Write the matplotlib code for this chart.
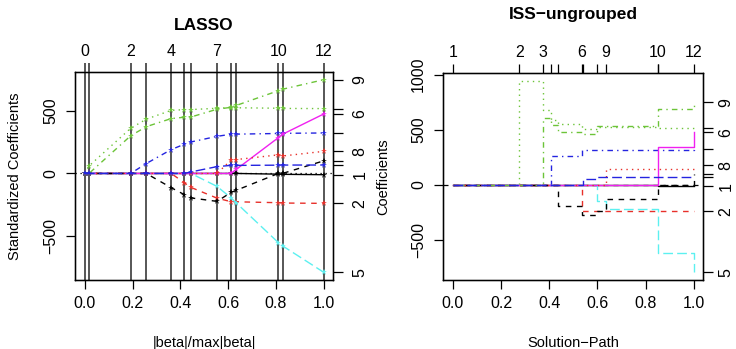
import numpy as np
import matplotlib.pyplot as plt

plt.rcParams['font.family'] = ['Liberation Sans', 'DejaVu Sans']

# variables of the diabetes data, in column order 1..10
var_names = ['age', 'sex', 'bmi', 'map', 'tc', 'ldl', 'hdl', 'tch', 'ltg', 'glu']

# LASSO path: |beta|/max|beta| at each step, coefficients per variable
lasso_frac = [0.0, 0.0174, 0.1918, 0.2569, 0.3615, 0.4164, 0.4442,
              0.5533, 0.6115, 0.6345, 0.8099, 0.8275, 1.0]
lasso_age = [0, 0, 0, 0, 0, 0, 0, 0, 0, 0, -5.7, -7.0, -10.0]
lasso_sex = [0, 0, 0, 0, 0, -74.9, -112.0, -197.8, -226.1, -227.2, -234.4, -237.1, -239.8]
lasso_bmi = [0, 60.1, 361.9, 434.8, 505.7, 511.3, 512.0, 522.3, 526.9, 526.4, 522.6, 521.1, 519.8]
lasso_map = [0, 0, 0, 79.2, 191.3, 234.2, 252.5, 297.2, 314.4, 315.0, 320.3, 321.5, 324.4]
lasso_tc = [0, 0, 0, 0, 0, 0, 0, -103.9, -195.1, -237.3, -554.3, -580.4, -792.2]
lasso_ldl = [0, 0, 0, 0, 0, 0, 0, 0, 0, 33.6, 286.7, 313.9, 476.7]
lasso_hdl = [0, 0, 0, 0, -114.1, -169.7, -196.0, -223.9, -152.5, -134.6, 0, 0, 101.0]
lasso_tch = [0, 0, 0, 0, 0, 0, 0, 0, 106.3, 111.4, 148.9, 139.9, 177.1]
lasso_ltg = [0, 0, 301.8, 374.9, 439.7, 450.7, 452.4, 514.7, 529.9, 545.5, 663.0, 674.9, 751.3]
lasso_glu = [0, 0, 0, 0, 0, 0, 12.1, 54.8, 64.5, 64.6, 66.3, 67.2, 67.6]
lasso_step_labels = ['0', '', '2', '', '4', '', '', '7', '', '', '10', '', '12']

# ISS-ungrouped path: solution-path position at each step, coefficients per variable
iss_pos = [0.0, 0.2756, 0.374, 0.408, 0.436, 0.535, 0.541, 0.598, 0.634, 0.850, 0.853, 1.0]
iss_age = [0, 0, 0, 0, 0, 0, 0, 0, 0, 0, -6, -10]
iss_sex = [0, 0, 0, 0, 0, -237, -237, -237, -237, -237, -237, -240]
iss_bmi = [0, 946, 676, 593, 557, 512, 512, 530, 530, 517, 517, 520]
iss_map = [0, 0, 0, 266, 266, 317, 317, 317, 317, 317, 317, 324]
iss_tc = [0, 0, 0, 0, 0, 0, 0, -147, -222, -617, -617, -792]
iss_ldl = [0, 0, 0, 0, 0, 0, 0, 0, 0, 347, 347, 477]
iss_hdl = [0, 0, 0, 0, -192, -276, -276, -240, -126, 0, 0, 101]
iss_tch = [0, 0, 0, 0, 0, 0, 0, 0, 146, 146, 146, 177]
iss_ltg = [0, 0, 611, 548, 481, 461, 461, 535, 535, 685, 685, 751]
iss_glu = [0, 0, 0, 0, 0, 0, 54, 72, 72, 72, 72, 68]
iss_step_labels = ['1', '2', '3', '', '', '6', '', '', '9', '10', '', '12']

# labels shown on the right axis (variable number at its final value)
right_labels = ['1', '2', '', '', '5', '6', '', '8', '9', '']

lasso_paths = [lasso_age, lasso_sex, lasso_bmi, lasso_map, lasso_tc,
               lasso_ldl, lasso_hdl, lasso_tch, lasso_ltg, lasso_glu]
iss_paths = [iss_age, iss_sex, iss_bmi, iss_map, iss_tc,
             iss_ldl, iss_hdl, iss_tch, iss_ltg, iss_glu]

# R matplot style: colours cycle 1:6, line types cycle 1:5
r_cols = ['black', '#e8302a', '#6cc438', '#2424e0', '#5cf0f0', '#f020f0']
r_ltys = ['-', (0, (4, 4)), (0, (1, 3)), (0, (1, 3, 4, 3)), (0, (7, 3))]

W, H = 736, 349
fig = plt.figure(figsize=(W / 100, H / 100), dpi=100)

TICK = 11.5
LAB = 10.5


def r_axes(rect):
    ax = fig.add_axes(rect)
    for s in ax.spines.values():
        s.set_linewidth(1.0)
    ax.tick_params(direction='out', length=6.5, width=0.9, labelsize=TICK, pad=5)
    ax.set_xlim(-0.04, 1.04)
    ax.set_xticks([0, 0.2, 0.4, 0.6, 0.8, 1.0])
    ax.set_xticklabels(['0.0', '0.2', '0.4', '0.6', '0.8', '1.0'])
    return ax


def side_axes(ax, top_pos, top_labels, finals, rpad):
    top = ax.twiny()
    top.set_xlim(ax.get_xlim())
    top.set_xticks(top_pos)
    top.set_xticklabels(top_labels)
    top.tick_params(direction='out', length=6.5, width=0.9, labelsize=TICK, pad=3)
    right = ax.twinx()
    right.set_ylim(ax.get_ylim())
    right.set_yticks(finals)
    right.set_yticklabels(right_labels, rotation=90, va='center')
    right.tick_params(direction='out', length=7, width=0.9, labelsize=TICK, pad=rpad)
    return top, right


def ylim_r(paths):
    lo = min(min(p) for p in paths)
    hi = max(max(p) for p in paths)
    pad = 0.04 * (hi - lo)
    return lo - pad, hi + pad


# ---- LASSO ----
ax1 = r_axes([75.3 / W, 1 - 280 / H, 258 / W, 208 / H])
ax1.set_ylim(*ylim_r(lasso_paths))
ax1.set_yticks([-500, 0, 500])
ax1.set_yticklabels(['\u2212500', '0', '500'], rotation=90, va='center')
ax1.tick_params(axis='y', pad=6)
for xv in lasso_frac:
    ax1.axvline(xv, color='#3a3a3a', lw=1.2, zorder=1)
ax1.axhline(0, color='black', lw=0.9, ls=(0, (1, 3)), zorder=1)
for k, path in enumerate(lasso_paths):
    ax1.plot(lasso_frac, path, color=r_cols[k % 6], ls=r_ltys[k % 5], lw=1.0,
             marker='*', ms=5, mew=0, zorder=3)
top1, right1 = side_axes(ax1, lasso_frac, lasso_step_labels,
                         [p[-1] for p in lasso_paths], 7)
top1.tick_params(color='#3a3a3a', width=1.2)

# ---- ISS-ungrouped ----
ax2 = r_axes([443.3 / W, 1 - 280 / H, 260 / W, 207 / H])
ax2.set_ylim(*ylim_r(iss_paths))
ax2.set_yticks([-500, 0, 500, 1000])
ax2.set_yticklabels(['\u2212500', '0', '500', '1000'], rotation=90, va='center')
ax2.tick_params(axis='y', pad=6)
ax2.axhline(0, color='black', lw=0.9, ls=(0, (4, 4)), zorder=1)
for k, path in enumerate(iss_paths):
    ax2.plot(iss_pos, path, color=r_cols[k % 6], ls=r_ltys[k % 5], lw=1.0,
             drawstyle='steps-post', zorder=3)
top2, right2 = side_axes(ax2, iss_pos, iss_step_labels,
                         [p[-1] for p in iss_paths], 4)

# titles and axis labels
fig.text(204 / W, 1 - 29.5 / H, 'LASSO', ha='center', va='baseline',
         fontsize=12.5, fontweight='bold')
fig.text(573 / W, 1 - 19 / H, 'ISS\u2212ungrouped', ha='center', va='baseline',
         fontsize=12.5, fontweight='bold')
fig.text(204 / W, 1 - 343 / H, '|beta|/max|beta|', ha='center', va='center', fontsize=LAB)
fig.text(573 / W, 1 - 343 / H, 'Solution\u2212Path', ha='center', va='center', fontsize=LAB)
fig.text(15 / W, 1 - 176 / H, 'Standardized Coefficients', ha='center', va='center',
         rotation=90, fontsize=LAB)
fig.text(383.3 / W, 1 - 176.5 / H, 'Coefficients', ha='center', va='center',
         rotation=90, fontsize=LAB)

fig.savefig('out.png', dpi=100)
